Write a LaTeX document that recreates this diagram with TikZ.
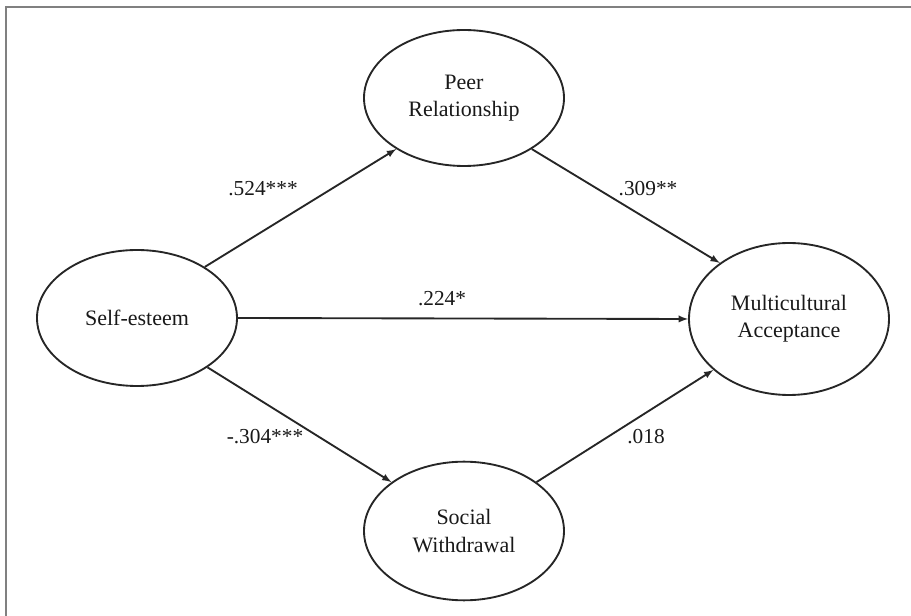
\documentclass[tikz,border=0pt]{standalone}
\usepackage{fontspec}
\setmainfont{Liberation Serif}
\usepackage{tikz}
\usetikzlibrary{arrows,positioning,calc,shapes}

\begin{document}
\begin{tikzpicture}[x=0.75pt,y=-0.75pt,
		var/.style={draw=black!85,line width=1.4pt,ellipse,inner sep=0pt,
			minimum width=150pt,align=center,text=black!90,
			font=\fontsize{16.5}{20.5}\selectfont},
		path/.style={-latex,line width=1.4pt,draw=black!85},
		coef/.style={text=black!90,font=\fontsize{16}{19}\selectfont}]
		\useasboundingbox (0,0) rectangle (911,616);
		\draw[line width=1.6pt,gray] (6,616) -- (6,7) -- (911,7);
		% latent variables
		\node[var,minimum height=102pt] (se) at (137,318) {Self-esteem};
		\node[var,minimum height=102pt] (pr) at (464,98) {Peer\\Relationship};
		\node[var,minimum height=114pt] (ma) at (789,319) {Multicultural\\Acceptance};
		\node[var,minimum height=104pt] (sw) at (464,531) {Social\\Withdrawal};
		% paths
		\draw[path] (se.37) -- (pr.-143);
		\draw[path] (pr.-37) -- (ma.141);
		\draw[path] (se.east) -- (ma.west);
		\draw[path] (se.-35) -- (sw.146);
		\draw[path] (sw.34) -- (ma.-146);
		% coefficients
		\node[coef] (c1) at (263,189) {.524***};
		\node[coef] (c2) at (648,189) {.309**};
		\node[coef] (c3) at (442,299) {.224*};
		\node[coef] (c4) at (265,437) {-.304***};
		\node[coef] (c5) at (646,437) {.018};
\end{tikzpicture}
\end{document}
